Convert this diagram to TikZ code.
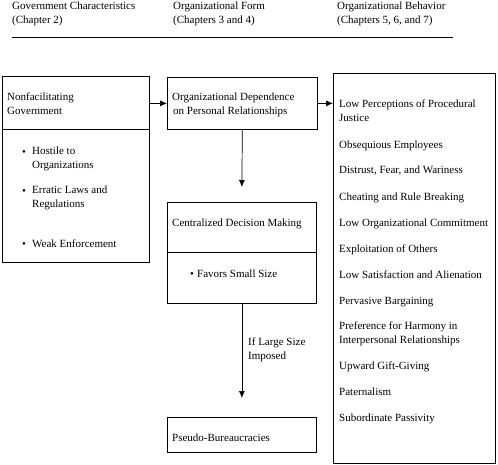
\documentclass[tikz,border=0pt]{standalone}
\usepackage{fontspec}
\setmainfont{Liberation Serif}
\usetikzlibrary{arrows.meta}
\begin{document}
\begin{tikzpicture}[x=1pt,y=-1pt,
  box/.style={draw, line width=0.7pt, inner sep=0pt, anchor=north west},
  txt/.style={inner sep=0pt, anchor=base west, font=\fontsize{11}{14}\selectfont},
  mtxt/.style={inner sep=0pt, anchor=north west, align=left, font=\fontsize{11}{14}\selectfont},
  arr/.style={line width=0.7pt, -{Latex[length=7pt,width=6pt]}}]
\useasboundingbox (0,0) rectangle (498,464);

% header
\node[mtxt] (h1) at (12,2) {Government Characteristics\\(Chapter 2)};
\node[mtxt] (h2) at (173,2) {Organizational Form\\(Chapters 3 and 4)};
\node[mtxt] (h3) at (337,2) {Organizational Behavior\\(Chapters 5, 6, and 7)};
\coordinate (rl) at (12,37);
\coordinate (rr) at (453,37);
\draw[line width=0.9pt] (rl) -- (rr);

% boxes
\node[box, minimum width=147pt, minimum height=186pt] (gov) at (2,76) {};
\node[box, minimum width=150pt, minimum height=52pt] (dep) at (167,77) {};
\node[box, minimum width=149pt, minimum height=101pt] (cen) at (167,202) {};
\node[box, minimum width=149pt, minimum height=35pt] (pse) at (167,417) {};
\node[box, minimum width=162pt, minimum height=390pt] (beh) at (333,73) {};
\draw[line width=0.7pt] (gov.west |- 0,129) -- (gov.east |- 0,129);
\draw[line width=0.7pt] (cen.west |- 0,252) -- (cen.east |- 0,252);

% left box text
\node[mtxt] (g0) at (7,93) {Nonfacilitating\\Government};
\node[txt] (b1) at (22,155) {\textbullet};
\node[mtxt] (g1) at (32,147) {Hostile to\\Organizations};
\node[txt] (b2) at (22,194) {\textbullet};
\node[mtxt] (g2) at (32,186) {Erratic Laws and\\Regulations};
\node[txt] (b3) at (22,247) {\textbullet};
\node[txt] (g3) at (32,247) {Weak Enforcement};

% middle text
\node[mtxt] (d0) at (172,93) {Organizational Dependence\\\hspace*{1pt}on Personal Relationships};
\node[txt] (c0) at (172,226) {Centralized Decision Making};
\node[txt] (b4) at (190,277) {\textbullet};
\node[txt] (c1) at (197,277) {Favors Small Size};
\node[mtxt] (lab) at (248,338) {If Large Size\\Imposed};
\node[txt] (p0) at (172,441) {Pseudo-Bureaucracies};

% right box text
\node[mtxt] (r1) at (339,100) {Low Perceptions of Procedural\\Justice};
\node[txt] (r2) at (339,148) {Obsequious Employees};
\node[txt] (r3) at (339,173) {Distrust, Fear, and Wariness};
\node[txt] (r4) at (339,200) {Cheating and Rule Breaking};
\node[txt] (r5) at (339,226) {Low Organizational Commitment};
\node[txt] (r6) at (339,252) {Exploitation of Others};
\node[txt] (r7) at (339,278) {Low Satisfaction and Alienation};
\node[txt] (r8) at (339,304) {Pervasive Bargaining};
\node[mtxt] (r9) at (339,322) {Preference for Harmony in\\Interpersonal Relationships};
\node[txt] (r10) at (339,369) {Upward Gift-Giving};
\node[txt] (r11) at (339,395) {Paternalism};
\node[txt] (r12) at (339,421) {Subordinate Passivity};

% arrows
\draw[arr] (dep.west -| gov.east) -- (dep.west);
\draw[arr] (dep.east) -- (dep.east -| beh.west);
\draw[arr] (dep.south) -- ([yshift=15pt]cen.north);
\draw[arr] (cen.south) -- ([yshift=19pt]pse.north);
\end{tikzpicture}
\end{document}
